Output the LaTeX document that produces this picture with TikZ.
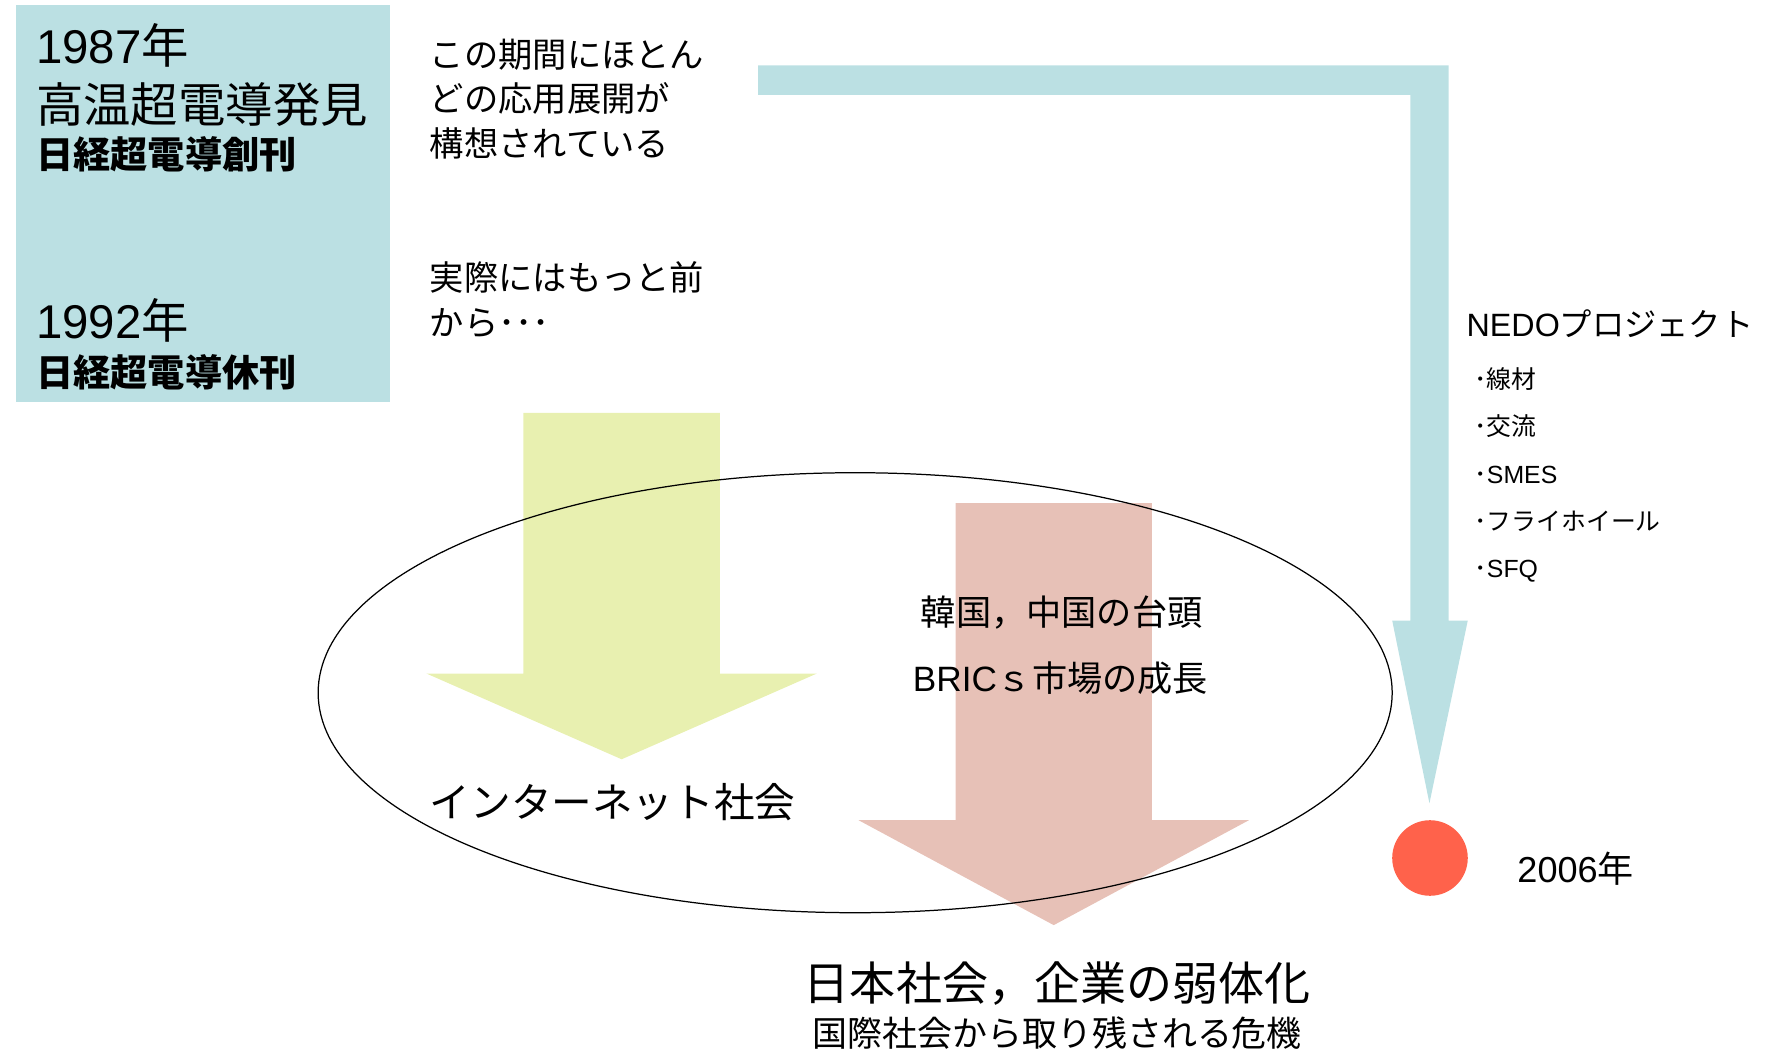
\documentclass[tikz,border=0pt]{standalone}
\usepackage{fontspec}
\setmainfont{Noto Sans CJK JP}
\newfontfamily\lat{Liberation Sans}
\definecolor{boxblue}{RGB}{187,224,227}
\definecolor{ygreen}{RGB}{232,240,176}
\definecolor{pinkish}{RGB}{231,193,183}
\definecolor{dotred}{RGB}{255,98,75}
\newcommand{\fs}[2]{\fontsize{#1}{#2}\selectfont}
\begin{document}
\begin{tikzpicture}[x=0.5pt,y=-0.5pt,
  lbl/.style={inner sep=0pt, outer sep=0pt, text=black, anchor=west},
  ctr/.style={inner sep=0pt, outer sep=0pt, text=black, anchor=center},
  block/.style={lbl, align=left}]
\useasboundingbox (0,0) rectangle (1568,932);
% left info box
\fill[boxblue] (14,4) rectangle (346,356);
\node[lbl, font=\fs{21}{25}] (y87) at (32,40) {{\lat 1987}年};
\node[lbl, font=\fs{21}{25}] (disc) at (32,93) {高温超電導発見};
\node[lbl, font=\fs{16.5}{20}\bfseries] (start) at (32,137) {日経超電導創刊};
\node[lbl, font=\fs{21}{25}] (y92) at (32,284) {{\lat 1992}年};
\node[lbl, font=\fs{16.5}{20}\bfseries] (stop) at (32,330) {日経超電導休刊};
% remarks
\node[block, font=\fs{15.2}{19.75}] (rem1) at (381,87.5) {この期間にほとん\\どの応用展開が\\構想されている};
\node[block, font=\fs{15.2}{19.75}] (rem2) at (381,265.5) {実際にはもっと前\\から･･･};
% blue bent arrow
\fill[boxblue] (672,58) -- (1284,58) -- (1284,550) -- (1301,550) -- (1267,712)
  -- (1234,550) -- (1250,550) -- (1250,84) -- (672,84) -- cycle;
% yellow arrow
\fill[ygreen] (464,366) -- (638,366) -- (638,597) -- (724,597) -- (551,673)
  -- (378,597) -- (464,597) -- cycle;
% pink arrow
\fill[pinkish] (847,446) -- (1021,446) -- (1021,727) -- (1107,727) -- (934,820)
  -- (761,727) -- (847,727) -- cycle;
% ellipse
\draw[line width=0.55pt] (758,614) ellipse [x radius=476, y radius=195];
% red dot
\fill[dotred] (1267.5,760.5) circle [radius=33.5];
% texts
\node[lbl, font=\fs{14.3}{17}] (nedo) at (1300,287) {{\lat NEDO}プロジェクト};
\node[block, font=\fs{11}{21}] (items) at (1307,421) {･線材\\･交流\\･{\lat SMES}\\･フライホイール\\･{\lat SFQ}};
\node[lbl, font=\fs{16}{19}] (y06) at (1345,770) {{\lat 2006}年};
\node[ctr, font=\fs{15.6}{19}] (kr) at (941,543) {韓国，中国の台頭};
\node[ctr, font=\fs{15.6}{19}] (bric) at (940,601) {{\lat BRIC}ｓ市場の成長};
\node[lbl, font=\fs{18}{21}] (net) at (381,711) {インターネット社会};
\node[ctr, font=\fs{20.4}{24}] (weak) at (937,872) {日本社会，企業の弱体化};
\node[ctr, font=\fs{15.5}{19}] (risk) at (937,916) {国際社会から取り残される危機};
\end{tikzpicture}
\end{document}
